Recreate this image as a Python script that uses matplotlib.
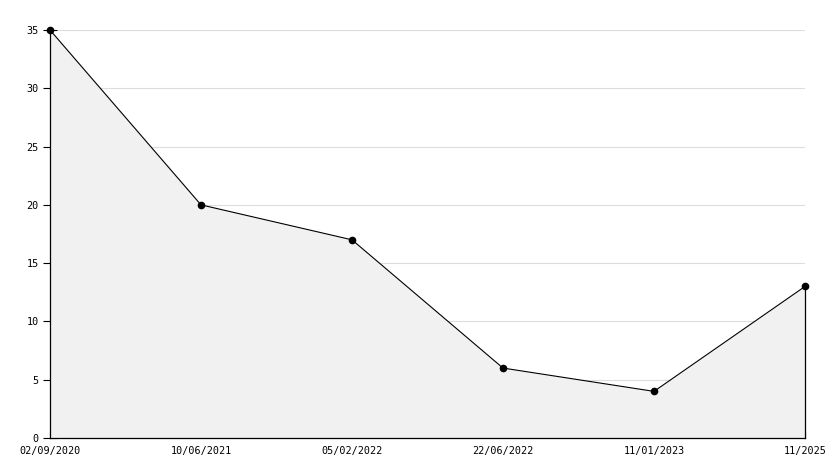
import matplotlib
matplotlib.use("Agg")
import matplotlib.pyplot as plt
from matplotlib.ticker import MultipleLocator

labels = ["02/09/2020", "10/06/2021", "05/02/2022", "22/06/2022", "11/01/2023", "11/2025"]
values = [35, 20, 17, 6, 4, 13]

plt.rcParams['font.family'] = ['DejaVu Sans Mono']
fig = plt.figure(figsize=(8.34, 4.68), dpi=100)
ax = fig.add_axes([50/834, 30/468, 755/834, 408/468])

x = list(range(len(values)))
ax.fill_between(x, values, 0, color="#f1f1f1", linewidth=0, zorder=1)
ax.plot(x, values, color="black", linewidth=0.8, marker="o", markersize=4.5, zorder=3, clip_on=False)
ax.plot([x[-1], x[-1]], [0, values[-1]], color="black", linewidth=0.9, zorder=3, clip_on=False)

ax.set_xlim(0, len(values) - 1)
ax.set_ylim(0, 35)
ax.set_xticks(x)
ax.set_xticklabels(labels, fontsize=7.3)
ax.yaxis.set_major_locator(MultipleLocator(5))
ax.yaxis.set_minor_locator(MultipleLocator(1))
ax.tick_params(axis="y", which="major", direction="inout", length=10, width=0.8, labelsize=7.3, pad=3)
ax.tick_params(axis="y", which="minor", direction="in", length=3, width=0.8)
ax.tick_params(axis="x", which="major", direction="in", length=5, width=0.8, pad=6)
ax.grid(axis="y", which="major", color="#dddddd", linewidth=0.8, zorder=0)
ax.set_axisbelow(True)
for s in ["top", "right"]:
    ax.spines[s].set_visible(False)
for s in ["left", "bottom"]:
    ax.spines[s].set_linewidth(0.9)

fig.savefig("out.png", dpi=100)
